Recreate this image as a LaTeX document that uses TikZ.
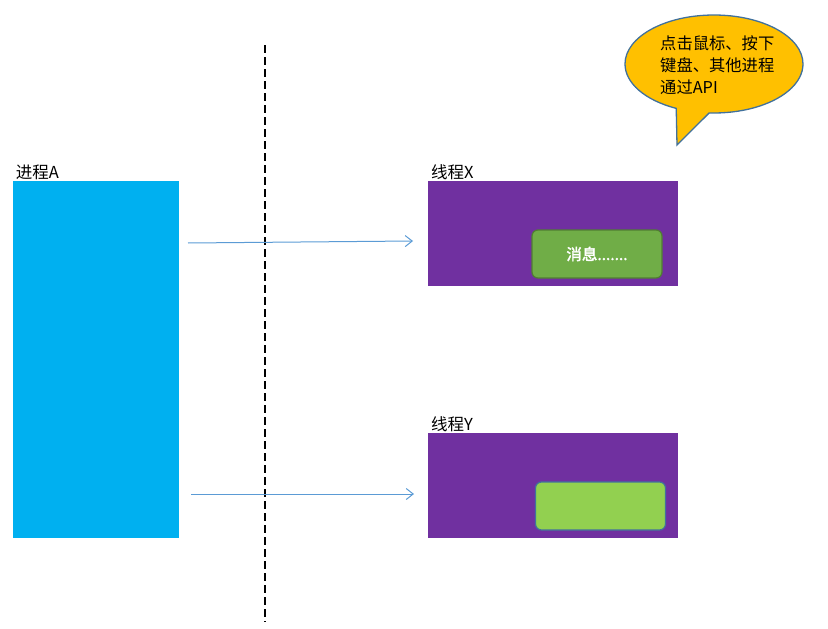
\documentclass[tikz,border=0pt]{standalone}
\usepackage{fontspec}
\usepackage{tikz}
\usetikzlibrary{shapes.geometric}
\usetikzlibrary{shapes.callouts}
\usetikzlibrary{positioning}
\usetikzlibrary{arrows.meta}
\newfontfamily\cjk[AutoFakeBold=2.5]{Noto Sans CJK SC}
\definecolor{procblue}{HTML}{00B0F0}
\definecolor{threadpurple}{HTML}{7030A0}
\definecolor{msggreen}{HTML}{70AD47}
\definecolor{msgedge}{HTML}{507E32}
\definecolor{lightgreen}{HTML}{92D050}
\definecolor{edgeblue}{HTML}{41719C}
\definecolor{arrowblue}{HTML}{5B9BD5}
\definecolor{bubbleyellow}{HTML}{FFC000}
\tikzstyle{process} = [rectangle, fill=procblue, minimum width=166pt, minimum height=357pt, inner sep=0pt]
\tikzstyle{thread} = [rectangle, fill=threadpurple, minimum width=250pt, minimum height=105pt, inner sep=0pt]
\tikzstyle{message} = [rectangle, rounded corners=6pt, draw=msgedge, line width=1.2pt, fill=msggreen, minimum width=130pt, minimum height=48pt, inner sep=0pt, text=white, font=\cjk\bfseries\fontsize{15.5pt}{17pt}\selectfont]
\tikzstyle{empty message} = [message, draw=edgeblue, fill=lightgreen]
\tikzstyle{caption} = [inner sep=0pt, font=\cjk\fontsize{16.5pt}{18pt}\selectfont]
\tikzstyle{bubble} = [ellipse callout, draw=edgeblue, line width=1.3pt, fill=bubbleyellow, minimum width=178pt, minimum height=98pt, callout pointer arc=22]
\tikzstyle{bubble text} = [inner sep=0pt, align=left, font=\cjk\fontsize{16.3pt}{22pt}\selectfont]
\tikzstyle{divider} = [line width=2.6pt, dash pattern=on 8pt off 4pt]
\tikzstyle{flow} = [arrowblue, line width=1pt, -{Straight Barb[length=7pt,width=11pt]}]

\begin{document}
\begin{tikzpicture}[x=1pt,y=-1pt]
            \useasboundingbox (0,0) rectangle (828,629);
            % process and threads
            \node[process] (procA) at (96,359.5) {};
            \node[caption, anchor=south west] (labelA) at ([xshift=3pt,yshift=1pt]procA.north west) {进程A};
            \node[thread] (threadX) at (553,233.5) {};
            \node[caption, anchor=south west] (labelX) at ([xshift=3pt,yshift=1pt]threadX.north west) {线程X};
            \node[message] (msgX) at (597,254) {消息.......};
            \node[thread] (threadY) at (553,485.5) {};
            \node[caption, anchor=south west] (labelY) at ([xshift=3pt,yshift=1pt]threadY.north west) {线程Y};
            \node[empty message] (msgY) at (600.5,506) {};
            % boundary
            \coordinate (dashtop) at (265,45);
            \coordinate (dashbottom) at (265,622);
            \draw[divider] (dashtop) -- (dashbottom);
            % messages sent
            \coordinate (startX) at (188,243);
            \coordinate (endX) at (413,241);
            \coordinate (startY) at (191,494);
            \coordinate (endY) at (414,494);
            \draw[flow] (startX) -- (endX);
            \draw[flow] (startY) -- (endY);
            % source of messages
            \node[bubble, callout absolute pointer={(677,145)}] (bubble) at (714,64) {};
            \node[bubble text, anchor=west] (bubbletext) at (660,65) {点击鼠标、按下\\键盘、其他进程\\通过API};
          \end{tikzpicture}
\end{document}
